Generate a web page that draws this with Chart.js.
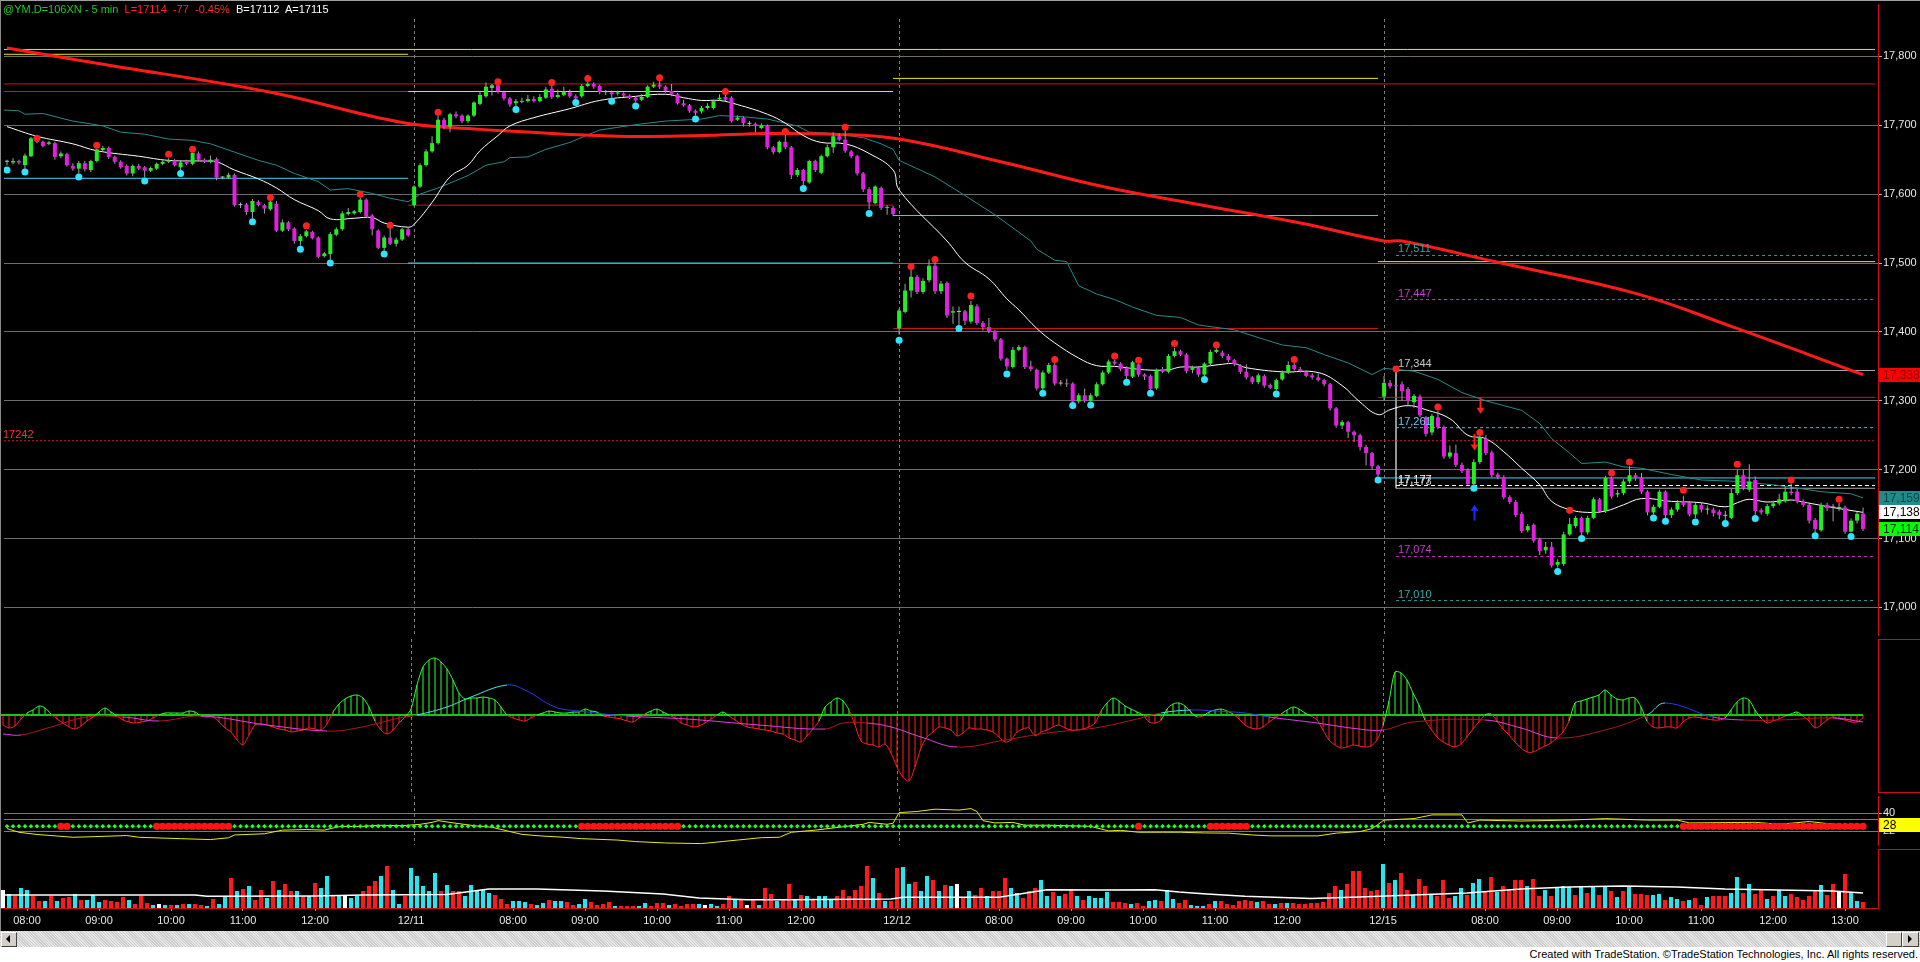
<!DOCTYPE html>
<html>
<head>
<meta charset="utf-8">
<script src="https://cdn.jsdelivr.net/npm/chart.js@4.4.1/dist/chart.umd.min.js"></script>
<style>
html,body{margin:0;padding:0;background:#000;width:1920px;height:962px;overflow:hidden;font-family:"Liberation Sans",Arial,sans-serif;}
canvas{position:absolute;left:0;display:block;}
#c1{top:0px}#c2{top:639px}#c3{top:792px}#c4{top:849px}
#hdr{position:absolute;left:3px;top:3px;font-size:11px;line-height:13px;white-space:pre;z-index:5;}
.sep{position:absolute;left:1878px;width:42px;height:1px;background:#d01010;z-index:4;}
#topb{position:absolute;left:0;top:0;width:1920px;height:1px;background:#a0a0a0;z-index:6;}
#leftb{position:absolute;left:0;top:0;width:1px;height:931px;background:#8a8a8a;z-index:6;}
#scroll{position:absolute;left:0;top:931px;width:1920px;height:16px;background:repeating-linear-gradient(45deg,#e6e6e6 0px,#e6e6e6 1px,#cdcdcd 1px,#cdcdcd 2px);}
.btn{position:absolute;top:1px;height:13px;background:#d4d0c8;border:1px solid;border-color:#fff #404040 #404040 #fff;}
#foot{position:absolute;left:0;top:947px;width:1920px;height:15px;background:#fff;}
#foottxt{position:absolute;right:2px;top:1px;font-size:11px;line-height:13px;color:#000;white-space:nowrap;}
</style>
</head>
<body>
<canvas id="c1" width="1920" height="639"></canvas>
<canvas id="c2" width="1920" height="153"></canvas>
<canvas id="c3" width="1920" height="57"></canvas>
<canvas id="c4" width="1920" height="82"></canvas>
<div id="hdr"><span style="color:#22c822">@YM.D=106XN - 5 min</span>  <span style="color:#ff2a2a">L=17114  -77  -0.45%</span>  <span style="color:#ffffff">B=17112  A=17115</span></div>
<div id="topb"></div><div id="leftb"></div>
<div class="sep" style="top:639px"></div>
<div class="sep" style="top:792px"></div>
<div class="sep" style="top:849px"></div>
<div id="scroll">
  <div class="btn" style="left:1px;width:14px;"><div style="position:absolute;left:4px;top:2px;width:0;height:0;border-top:4px solid transparent;border-bottom:4px solid transparent;border-right:4px solid #000;"></div></div>
  <div class="btn" style="left:1886px;width:14px;"></div>
  <div class="btn" style="left:1902px;width:15px;"><div style="position:absolute;left:5px;top:2px;width:0;height:0;border-top:4px solid transparent;border-bottom:4px solid transparent;border-left:4px solid #000;"></div></div>
</div>
<div id="foot"><div id="foottxt">Created with TradeStation. ©TradeStation Technologies, Inc. All rights reserved.</div></div>
<script>
// ---------------- DATA ----------------
const sessionStartBars = [68, 149, 230];
const xTickBars = [4,16,28,40,52,68,85,97,109,121,133,149,166,178,190,202,214,230,247,259,271,283,295,307];
const xTickLabels = ['08:00','09:00','10:00','11:00','12:00','12/11','08:00','09:00','10:00','11:00','12:00','12/12','08:00','09:00','10:00','11:00','12:00','12/15','08:00','09:00','10:00','11:00','12:00','13:00'];
const priceTicks = [17000,17100,17200,17300,17400,17500,17600,17700,17800];

const opens = [
17647,17646,17648,17642,17655,17678,17676,17673,17674,17655,17658,17641,17637,17645,17635,17648,17664,17667,17654,17647,
17641,17630,17641,17639,17634,17637,17644,17647,17649,17639,17648,17644,17659,17650,17647,17651,17624,17624,17628,17584,
17585,17574,17589,17584,17578,17586,17547,17559,17550,17532,17539,17545,17537,17510,17513,17541,17549,17571,17572,17574,
17592,17569,17547,17522,17537,17528,17534,17549,
17584,17611,17642,17662,17674,17708,17698,17716,17714,17706,17714,17731,17742,17754,17758,17748,17739,17732,17734,17735,
17738,17735,17740,17753,17741,17744,17748,17742,17742,17757,17760,17757,17748,17748,17746,17746,17743,17740,17737,17741,
17756,17759,17756,17750,17745,17732,17729,17721,17720,17725,17725,17738,17741,17740,17708,17711,17702,17702,17696,17699,
17668,17661,17676,17668,17628,17635,17617,17648,17631,17655,17668,17684,17679,17662,17655,17630,17607,17587,17609,17580,17580,
17405,17429,17460,17480,17458,17475,17496,17459,17471,17428,17429,17430,17415,17437,17413,17407,17401,17389,17361,17349,
17374,17378,17350,17345,17318,17341,17352,17325,17325,17325,17299,17308,17300,17307,17324,17341,17357,17354,17348,17335,
17353,17338,17336,17318,17346,17342,17365,17372,17367,17345,17348,17338,17354,17371,17370,17365,17359,17351,17342,17334,
17327,17336,17323,17317,17331,17341,17352,17346,17342,17337,17334,17330,17324,17289,17264,17269,17255,17250,17233,17224,17205,
17306,17326,17322,17324,17317,17298,17306,17276,17254,17276,17262,17219,17224,17207,17200,17179,17211,17245,17225,17193,
17189,17160,17153,17136,17112,17120,17099,17083,17088,17062,17063,17106,17118,17130,17109,17130,17157,17140,17188,17164,
17166,17183,17192,17188,17168,17138,17146,17168,17134,17142,17154,17152,17135,17149,17142,17142,17139,17133,17130,17166,
17192,17171,17185,17141,17136,17147,17151,17154,17168,17168,17154,17149,17127,17112,17149,17145,17144,17145,17110,17126,17136
];
const highs = [
17650,17652,17650,17659,17683,17677,17678,17677,17676,17662,17660,17645,17648,17648,17650,17666,17670,17669,17656,17649,
17643,17643,17644,17641,17640,17646,17649,17652,17651,17648,17650,17660,17662,17652,17656,17653,17626,17631,17630,17588,
17587,17593,17591,17586,17591,17590,17563,17561,17552,17542,17548,17547,17539,17516,17545,17552,17575,17580,17577,17595,
17594,17571,17549,17540,17551,17537,17551,17552,
17613,17645,17665,17684,17714,17711,17718,17720,17716,17716,17735,17750,17762,17760,17758,17750,17741,17738,17740,17744,
17742,17745,17755,17757,17752,17756,17752,17745,17760,17763,17762,17759,17751,17750,17750,17748,17745,17742,17745,17758,
17763,17764,17758,17760,17747,17737,17731,17723,17728,17732,17737,17745,17744,17742,17714,17713,17706,17704,17703,17701,
17670,17678,17686,17670,17638,17637,17650,17650,17657,17672,17690,17688,17692,17664,17657,17632,17610,17613,17611,17584,17583,
17434,17470,17490,17483,17478,17505,17500,17474,17473,17437,17437,17432,17445,17440,17416,17420,17403,17391,17363,17378,
17381,17380,17358,17347,17344,17355,17355,17330,17332,17327,17311,17318,17311,17327,17344,17360,17360,17356,17350,17358,
17354,17340,17338,17347,17349,17368,17377,17374,17369,17351,17350,17356,17374,17376,17373,17368,17361,17353,17353,17336,
17340,17338,17325,17332,17344,17357,17355,17349,17344,17340,17340,17332,17326,17291,17272,17271,17257,17252,17236,17226,17207,
17336,17330,17340,17328,17320,17310,17309,17278,17281,17285,17264,17235,17236,17210,17202,17215,17249,17250,17228,17196,
17192,17163,17156,17139,17121,17122,17101,17095,17095,17070,17110,17130,17133,17132,17133,17160,17159,17191,17190,17170,
17186,17205,17195,17195,17170,17149,17171,17170,17145,17156,17162,17154,17152,17152,17148,17145,17142,17140,17172,17200,
17200,17208,17190,17144,17150,17155,17165,17175,17180,17172,17157,17152,17130,17152,17152,17150,17152,17148,17129,17139,17145
];
const lows = [
17642,17643,17643,17637,17654,17674,17668,17671,17650,17652,17640,17634,17630,17633,17632,17646,17662,17651,17644,17637,
17627,17626,17635,17625,17632,17635,17642,17645,17640,17635,17642,17642,17648,17645,17645,17620,17622,17622,17582,17580,
17570,17565,17582,17572,17576,17545,17545,17546,17528,17525,17537,17534,17507,17508,17505,17539,17547,17569,17570,17572,
17566,17540,17520,17518,17526,17524,17532,17538,
17582,17609,17640,17660,17672,17694,17690,17710,17703,17703,17712,17729,17740,17743,17746,17736,17727,17728,17732,17733,
17733,17733,17738,17738,17739,17742,17740,17738,17740,17755,17753,17745,17744,17740,17743,17741,17738,17733,17735,17739,
17754,17753,17747,17742,17730,17727,17718,17714,17717,17723,17723,17736,17735,17704,17706,17698,17698,17690,17694,17665,
17658,17659,17665,17622,17625,17613,17615,17632,17629,17653,17660,17677,17660,17652,17627,17603,17578,17585,17577,17570,17568,
17396,17427,17450,17455,17455,17472,17455,17455,17420,17412,17410,17410,17412,17410,17402,17398,17386,17358,17345,17347,
17372,17346,17343,17315,17316,17339,17322,17322,17320,17298,17296,17297,17299,17305,17322,17339,17352,17343,17332,17333,
17335,17330,17316,17316,17340,17340,17363,17365,17340,17340,17335,17336,17352,17369,17362,17356,17350,17339,17331,17324,
17324,17319,17317,17315,17329,17339,17344,17341,17334,17331,17328,17321,17286,17261,17259,17246,17240,17228,17206,17200,17190,
17300,17318,17310,17300,17292,17290,17276,17248,17250,17259,17216,17216,17204,17195,17178,17177,17208,17221,17189,17186,
17157,17150,17131,17108,17109,17094,17076,17078,17058,17058,17060,17104,17115,17105,17106,17128,17137,17137,17158,17160,
17163,17180,17184,17165,17134,17135,17144,17130,17130,17139,17146,17132,17130,17138,17135,17132,17128,17127,17128,17163,
17170,17168,17134,17135,17133,17144,17148,17152,17163,17151,17146,17122,17108,17110,17140,17125,17140,17107,17109,17122,17111
];
const closes = [
17647,17648,17646,17656,17681,17676,17670,17675,17654,17659,17642,17637,17645,17636,17648,17665,17667,17654,17647,17639,
17630,17641,17637,17634,17638,17644,17647,17649,17642,17646,17644,17660,17650,17647,17650,17624,17624,17628,17584,17584,
17574,17590,17584,17579,17589,17547,17559,17549,17532,17539,17546,17536,17509,17514,17542,17549,17572,17574,17575,17592,
17568,17549,17522,17537,17528,17534,17549,17540,
17611,17642,17662,17674,17708,17697,17716,17713,17706,17714,17733,17744,17756,17758,17749,17739,17730,17735,17735,17738,
17735,17741,17752,17741,17744,17749,17742,17739,17757,17760,17756,17748,17748,17745,17747,17743,17740,17736,17741,17756,
17759,17756,17750,17745,17732,17729,17721,17718,17725,17728,17735,17740,17737,17706,17711,17703,17702,17699,17700,17668,
17661,17676,17668,17628,17635,17619,17648,17635,17655,17668,17684,17679,17663,17655,17630,17607,17588,17611,17580,17581,17571,
17431,17460,17480,17458,17474,17496,17459,17470,17424,17430,17429,17416,17439,17413,17407,17401,17389,17361,17350,17374,
17378,17349,17346,17318,17341,17352,17325,17325,17324,17299,17308,17300,17308,17324,17341,17357,17354,17346,17336,17356,
17338,17335,17317,17345,17342,17365,17372,17367,17343,17348,17338,17354,17371,17374,17365,17359,17353,17342,17334,17327,
17337,17322,17319,17330,17341,17352,17346,17343,17336,17334,17330,17324,17289,17264,17269,17255,17250,17233,17224,17205,17193,
17326,17321,17321,17314,17300,17307,17279,17252,17278,17262,17219,17225,17207,17198,17179,17211,17247,17224,17192,17189,
17160,17153,17134,17111,17118,17097,17082,17088,17061,17066,17106,17121,17130,17109,17130,17157,17140,17188,17161,17166,
17183,17192,17188,17168,17138,17146,17168,17134,17142,17152,17149,17135,17149,17142,17142,17137,17134,17133,17166,17192,
17173,17183,17140,17138,17147,17151,17157,17168,17166,17154,17149,17126,17114,17149,17144,17145,17146,17110,17126,17136,17114
];

// swing markers [bar, price]
const swingHighs = [[5,17681],[15,17671],[27,17658],[31,17665],[44,17595],[50,17554],[59,17600],[64,17555],
  [72,17719],[82,17763],[91,17762],[97,17768],[109,17769],[120,17749],[130,17691],[140,17697],
  [151,17495],[155,17505],[161,17452],[175,17360],[185,17365],[189,17359],[195,17383],[202,17381],[215,17360],
  [232,17346],[239,17291],[246,17254],[261,17141],[268,17195],[271,17211],[280,17170],[289,17208],[298,17185],[306,17157]];
const swingLows = [[0,17635],[3,17632],[12,17625],[23,17619],[29,17630],[41,17560],[49,17520],[54,17500],[63,17513],
  [85,17723],[95,17733],[101,17735],[105,17728],[115,17709],[133,17608],[144,17572],
  [149,17388],[159,17405],[167,17339],[173,17311],[178,17293],[181,17294],[187,17327],[191,17311],[200,17331],[212,17310],[229,17185],
  [245,17173],[259,17052],[263,17100],[275,17130],[277,17125],[282,17124],[287,17122],[292,17129],[302,17104],[308,17103]];

// moving averages [bar, price]
const slowMA = [[0,17812],[15,17790],[44,17748],[66,17704],[79,17694],[83,17692],[102,17684],[116,17685],[127,17688],[138,17687],
  [149,17680],[166,17647],[183,17611],[199,17585],[216,17558],[230,17532],[233,17532],[249,17501],[272,17456],[288,17408],[310,17338]];
const fastMA = [[0,17698],[5,17684],[11,17673],[15,17663],[22,17655],[27,17649],[33,17648],[35,17647],[38,17635],[42,17622],
  [45,17609],[48,17592],[52,17576],[54,17564],[58,17565],[61,17566],[63,17558],[67,17552],[68,17556],[71,17588],[74,17625],
  [77,17642],[79,17663],[82,17685],[84,17699],[88,17711],[94,17724],[99,17736],[105,17742],[110,17745],[113,17740],[116,17736],
  [119,17736],[122,17730],[127,17716],[130,17703],[133,17685],[136,17675],[140,17673],[144,17659],[148,17635],[149,17606],
  [157,17532],[160,17501],[164,17477],[167,17448],[169,17432],[172,17405],[175,17384],[179,17362],[182,17351],[185,17350],
  [190,17345],[194,17345],[196,17349],[199,17349],[203,17353],[205,17354],[207,17348],[213,17342],[219,17341],[223,17322],
  [226,17298],[229,17280],[231,17287],[234,17293],[237,17287],[241,17274],[244,17250],[247,17245],[250,17226],[253,17202],
  [256,17178],[258,17154],[261,17142],[264,17138],[267,17140],[270,17149],[273,17158],[278,17154],[283,17152],[287,17146],
  [289,17152],[291,17157],[294,17153],[298,17156],[300,17153],[305,17145],[310,17138]];
const highBand = [[-0.5,17722],[2,17721],[3,17716],[6,17717],[11,17706],[14,17702],[16,17699],[19,17690],[23,17687],[27,17680],
  [31,17678],[34,17673],[38,17661],[42,17649],[45,17642],[48,17630],[52,17618],[54,17606],[57,17608],[61,17601],[64,17594],
  [67,17589],[69,17600],[72,17609],[74,17616],[77,17627],[80,17642],[83,17647],[84,17653],[87,17654],[90,17665],[94,17675],
  [97,17686],[99,17693],[102,17697],[106,17702],[110,17706],[116,17709],[119,17714],[122,17713],[127,17709],[132,17699],
  [134,17690],[138,17688],[143,17682],[146,17673],[148,17665],[149,17649],[155,17625],[160,17598],[165,17570],[171,17532],
  [172,17520],[175,17504],[177,17502],[179,17467],[182,17455],[185,17447],[188,17436],[192,17424],[196,17421],[199,17410],
  [205,17403],[210,17389],[213,17381],[217,17377],[220,17367],[224,17355],[228,17338],[230,17347],[235,17343],[239,17331],
  [243,17312],[247,17300],[250,17293],[253,17286],[256,17267],[258,17245],[261,17224],[263,17209],[267,17211],[270,17204],
  [273,17202],[278,17193],[283,17185],[289,17183],[295,17178],[300,17172],[303,17168],[308,17165],[310,17159]];

// horizontal levels [fromBar, toBar, price, kind]
const levelSegments = [
  [-0.5,312,17810,'yellow'],[-0.5,312,17760,'red'],[-0.5,312,17242,'redDot'],
  [-0.5,67,17803,'yellow'],[-0.5,67,17749,'red'],[-0.5,67,17623,'cyan'],
  [67,148,17749,'yellow'],[67,148,17584,'red'],[67,148,17500,'cyan'],
  [148,229,17768,'yellow'],[148,229,17405,'red'],[148,229,17569,'cyan'],
  [229,312,17502,'yellow'],[229,312,17305,'red'],[229,312,17188,'cyan']
];
const labeledLevelFrom = 232, labeledLevelTo = 312;
const labeledLevels = [17511,17447,17344,17261,17177,17173,17074,17010];
const labeledKinds = ['tealDash','magDash','grey','cyanDash','whiteDash','grey','magDash','tealDash'];
const pivotLevel = 17242;
const arrows = [[246,17305,17281,'down'],[245,17252,17228,'down'],[245,17126,17149,'up']];

// MACD histogram, one value per bar
const macdHist = [
-10,-13,-11,-4,2,5,9,7,1,-4,-8,-12,-14,-11,-6,-2,3,7,3,-1,-5,-7,-8,-7,-6,-3,0,2,2,2,2,4,3,-1,-2,-2,-7,-13,-17,-25,
-30,-20,-10,-9,-10,-12,-14,-15,-17,-16,-15,-13,-14,-15,-9,3,11,16,19,20,17,8,-6,-15,-19,-15,-8,-2,
6,30,48,55,57,53,46,35,22,16,17,17,18,17,15,8,0,-3,-5,-6,-3,0,2,4,3,2,2,3,3,6,4,3,-1,-2,-3,-4,-6,-7,-3,1,
4,6,3,0,-3,-8,-10,-12,-11,-8,-4,0,3,-1,-5,-9,-12,-13,-14,-15,-16,-18,-19,-23,-25,-27,-21,-14,-6,8,13,17,14,5,-10,-26,-29,-30,-32,-29,-38,
-52,-62,-66,-52,-33,-22,-17,-12,-13,-15,-21,-18,-13,-14,-14,-15,-17,-22,-27,-25,-17,-14,-13,-21,-17,-15,-12,-10,-13,-15,
-15,-14,-12,-8,4,12,17,14,9,6,3,0,-7,-8,-5,6,11,12,9,3,-2,-1,3,5,6,4,1,-4,-10,-13,-14,-12,-7,-3,1,5,8,6,2,-1,
-5,-15,-25,-30,-33,-32,-30,-31,-32,-31,-25,
-10,14,43,42,35,22,10,-5,-14,-22,-27,-30,-32,-29,-22,-14,-7,0,1,-6,-14,-20,-27,-33,-37,-37,-34,-31,-28,-23,
-17,-6,12,14,16,18,20,25,20,16,15,17,17,8,-6,-12,-13,-12,-12,-13,-7,-3,-2,-3,-4,-5,-5,-3,5,13,
17,15,5,-3,-8,-6,-4,-1,1,3,-1,-6,-13,-10,-5,-2,-4,-5,-7,-7,-3
];
const macdSignal = [[0,-19],[3,-20],[8,-12],[14,-2],[20,-2],[26,-6],[33,-1],[44,-10],[54,-16],[59,-13],[66,-3],[69,0],[74,8],
  [78,18],[84,30],[87,25],[92,8],[96,4],[104,-1],[114,-4],[126,-10],[137,-14],[140,-8],[144,-8],[148,-12],[153,-22],[159,-32],
  [167,-25],[174,-18],[182,-13],[189,-4],[193,2],[198,5],[202,4],[207,2],[211,-2],[219,-8],[226,-14],[230,-15],[235,-7],
  [247,-5],[253,-13],[259,-23],[267,-15],[274,0],[277,12],[285,-2],[290,-5],[296,-5],[305,-3],[310,-7]];

// ADX
const adxLine = [[0,24.6],[2,21],[5,18.8],[11,16],[14,16.5],[20,17.7],[22,16],[29,14.6],[34,13.7],[37,15.5],[38,18.3],[43,19.5],
  [46,23.1],[50,23.7],[53,23.1],[55,26],[56,26.9],[59,26.6],[62,28],[66,27.5],[69,28.9],[71,30.8],[72,32.6],[74,30.8],[78,27.5],
  [81,26],[84,21.7],[86,18.9],[89,17.4],[93,16],[96,14.6],[102,13.2],[105,11.7],[110,10.3],[116,9.7],[122,13.2],[126,15.6],
  [129,16],[131,21],[135,23.1],[139,26],[143,28.9],[144,30.8],[147,28.9],[148,30],[149,40.6],[152,41.7],[155,44],[159,43.1],
  [161,44.6],[162,41.7],[163,32.6],[165,30.3],[168,30.8],[170,28],[174,28],[181,26.9],[184,22.3],[186,22.9],[189,21],[193,21],
  [196,21],[200,20.3],[204,20.1],[208,18.3],[211,17.4],[219,17.4],[222,20.1],[226,21.7],[228,24.6],[230,33.1],[235,34.6],
  [238,38.3],[243,38.3],[244,30.3],[246,33.1],[253,32.2],[261,33.1],[267,34.6],[274,33.1],[279,33.1],[281,30.3],[292,30.9],
  [296,28.9],[301,31.7],[305,29],[310,28]];
const adxTicks = [22,34,40];
const dotRowLevel = 27;
const adxAlertRanges = [[9,10],[25,37],[96,112],[189,189],[201,207],[280,310]];

// Volume per bar and direction (c = up, r = down, w = unchanged)
const volumes = [
1800,1400,1200,2000,1800,1200,700,700,1200,700,1000,1100,1400,800,800,1300,600,800,700,600,1100,800,400,1200,500,300,400,300,300,300,
400,400,400,300,200,900,400,1200,3000,1700,1900,2200,800,1800,1000,2700,1800,2400,1700,1700,1200,1200,2500,2000,3200,1300,1300,1200,1000,1200,
1700,2200,2700,3200,4200,1800,400,1200,
4000,3200,2200,1700,3500,1700,2300,1700,1700,1200,2300,1800,1800,1500,1300,900,400,700,700,600,400,300,500,800,700,700,600,300,400,900,
600,300,400,600,200,200,200,200,200,500,200,500,500,300,400,200,400,400,400,300,400,200,400,1200,800,800,300,800,300,2000,
1400,700,900,2400,800,1300,1200,900,1200,1200,900,1200,1800,1200,1800,2200,4200,3000,1500,700,700,
4000,4100,2400,2600,1700,3200,2800,1700,2300,2200,2400,1000,1700,1300,2000,1200,1700,1700,3000,2000,1500,1000,1700,2000,2800,1200,1600,1200,1400,1900,
1200,800,1200,1000,1000,1600,600,600,500,400,500,200,700,800,700,1800,900,500,800,300,200,200,400,700,700,400,300,700,800,700,
600,700,400,400,500,500,500,400,400,500,500,600,1500,2200,1800,2400,3700,3700,2000,1700,1800,
4400,2500,2800,3500,1800,1300,2900,2200,1400,1200,2800,1000,1200,2000,1300,2500,2900,1700,3100,1600,2200,1900,2800,2800,2200,2900,1200,1800,1200,2100,
2200,2100,1300,2200,1500,2100,1300,2100,1700,1100,1700,2100,1400,1400,1300,1300,1400,800,1100,900,700,800,1000,300,1100,1200,1200,1200,1500,3100,
1500,2400,1400,1900,900,1200,1800,1200,1400,1100,800,1200,1800,2300,1300,2400,1700,3400,1600,700,600
];
const volDir =
 "wcrccrrcrc"+"rrcrcccrrr"+"rcrrrcwcrc"+"rcrrcrccrc"+"rcrrcrcrrc"+"rcrccrcwcc"+"rrrcrccr"+
 "cccccrcrrc"+"ccccrrrccc"+"rccrccrrcc"+"rrrrcrrrcc"+"rrrcrrrrcw"+"ccrrcrwrcr"+"rcrrcrcrcc"+"crrrrrrcrcr"+
 "rccrccrcrc"+"wrcrrcrrrc"+"crrrccrcrr"+"crccccrrrc"+"rrccrccrrc"+"ccrcrrrrrr"+"crrcrcrrrr"+"rrrrcrrrrrr"+
 "crcrrcrrcr"+"rrccrccrrc"+"rrrrcrrcrc"+"ccrcrcrcrc"+"rcrrrccrcc"+"rcrrcrrrcc"+"rcrrcrccrr"+"rrrcrrwrccr";
const volumeMA = [[0,1300],[32,1300],[34,1170],[52,1200],[60,1300],[74,1350],[81,1900],[89,1900],[100,1700],[110,1400],[116,1000],
  [124,830],[131,830],[148,900],[150,1070],[166,1070],[174,1830],[183,1800],[192,1830],[196,1600],[200,1430],[207,1170],[218,950],
  [226,1100],[235,1300],[244,1500],[253,1900],[261,2100],[270,2200],[279,2100],[287,1900],[296,1800],[305,1700],[310,1500]];

// ---------------- RENDER ----------------
const FONT = "'Liberation Sans', Arial, sans-serif";
Chart.defaults.font.family = FONT;
Chart.defaults.font.size = 11;
Chart.defaults.animation = false;
Chart.defaults.plugins.legend.display = false;
Chart.defaults.plugins.tooltip.enabled = false;

const X_MIN = -0.5, X_MAX = 312.5;
const N = closes.length;
const idx = Array.from({length: N}, (_, i) => i);
const pts = arr => arr.map(([x, y]) => ({x, y}));
const fmt = v => Math.round(v).toLocaleString('en-US');
const lastOf = arr => arr[arr.length - 1][1];

const UP = '#22ee22', DN = '#e020e0', WICK = '#a4a4a4';
const LEVEL_STYLE = {
  yellow:   {color:'#e6e620', dash:[]},
  red:      {color:'#d41414', dash:[]},
  redDot:   {color:'#d02020', dash:[2,2]},
  cyan:     {color:'#3ad8ee', dash:[]},
  tealDash: {color:'#2f9c9c', dash:[3,3], label:'#35a8a8'},
  magDash:  {color:'#c030c0', dash:[3,3], label:'#c83cc8'},
  grey:     {color:'#a8a8a8', dash:[], label:'#c8c8c8'},
  cyanDash: {color:'#40c8c8', dash:[3,3], label:'#78c8f0'},
  whiteDash:{color:'#ffffff', dash:[4,3], label:'#ffffff'}
};

function xScale() {
  return {type:'linear', min:X_MIN, max:X_MAX, display:false, offset:false, grid:{offset:false}};
}
function fitY(ax) { ax.width = 42; ax.paddingTop = 0; ax.paddingBottom = 0; }

const dividerPlugin = (topOffset) => ({
  id: 'dividers',
  beforeDatasetsDraw(chart) {
    const {ctx, chartArea: a, scales: {x}} = chart;
    ctx.save();
    ctx.strokeStyle = '#7c7c7c'; ctx.lineWidth = 1; ctx.setLineDash([3, 3]);
    sessionStartBars.forEach(b => {
      const px = Math.round(x.getPixelForValue(b)) + 0.5;
      ctx.beginPath(); ctx.moveTo(px, a.top + topOffset); ctx.lineTo(px, a.bottom); ctx.stroke();
    });
    ctx.restore();
  }
});

const axisBox = (ctx, y, text, bg, fg) => {
  const py = Math.round(y);
  ctx.fillStyle = bg; ctx.fillRect(1879, py - 7, 41, 14);
  ctx.fillStyle = fg; ctx.font = '12px ' + FONT; ctx.textBaseline = 'middle'; ctx.textAlign = 'left';
  ctx.fillText(text, 1883, py + 1);
};

const priceOverlay = {
  id: 'priceOverlay',
  afterDatasetsDraw(chart) {
    const {ctx, scales: {x, y}} = chart;
    ctx.save();
    ctx.font = '11px ' + FONT; ctx.textAlign = 'left'; ctx.textBaseline = 'alphabetic';
    labeledLevels.forEach((p, k) => {
      ctx.fillStyle = LEVEL_STYLE[labeledKinds[k]].label;
      ctx.fillText(fmt(p), x.getPixelForValue(labeledLevelFrom) + 2, y.getPixelForValue(p) - 3);
    });
    ctx.fillStyle = '#ff3030';
    ctx.fillText(String(pivotLevel), 3, y.getPixelForValue(pivotLevel) - 3);
    arrows.forEach(([b, from, to, dir]) => {
      const px = Math.round(x.getPixelForValue(b)) + 0.5;
      const y0 = y.getPixelForValue(from), y1 = y.getPixelForValue(to);
      const s = Math.sign(y1 - y0);
      const col = dir === 'up' ? '#1a2cff' : '#ff1e1e';
      ctx.strokeStyle = col; ctx.fillStyle = col; ctx.lineWidth = 2;
      ctx.beginPath(); ctx.moveTo(px, y0); ctx.lineTo(px, y1 - s * 5); ctx.stroke();
      ctx.beginPath(); ctx.moveTo(px - 4, y1 - s * 6); ctx.lineTo(px + 4, y1 - s * 6); ctx.lineTo(px, y1); ctx.closePath(); ctx.fill();
    });
    ctx.restore();
  },
  afterDraw(chart) {
    const {ctx, scales: {y}} = chart;
    ctx.save();
    axisBox(ctx, y.getPixelForValue(lastOf(slowMA)), fmt(lastOf(slowMA)), '#ff0000', '#8a0000');
    axisBox(ctx, y.getPixelForValue(lastOf(highBand)), fmt(lastOf(highBand)), '#1f8c8c', '#0b4444');
    axisBox(ctx, y.getPixelForValue(lastOf(fastMA)), fmt(lastOf(fastMA)), '#ffffff', '#000000');
    axisBox(ctx, y.getPixelForValue(closes[N - 1]), fmt(closes[N - 1]), '#00ff00', '#002a00');
    ctx.restore();
  }
};

// ---- price pane ----
const levelDatasets = levelSegments.map(([a, b, p, kind]) => ({
  type:'line', data:[{x:a, y:p}, {x:b, y:p}], borderColor:LEVEL_STYLE[kind].color,
  borderDash:LEVEL_STYLE[kind].dash, borderWidth:1, pointRadius:0, order:20
}));
labeledLevels.forEach((p, k) => levelDatasets.push({
  type:'line', data:[{x:labeledLevelFrom, y:p}, {x:labeledLevelTo, y:p}], borderColor:LEVEL_STYLE[labeledKinds[k]].color,
  borderDash:LEVEL_STYLE[labeledKinds[k]].dash, borderWidth:1, pointRadius:0, order:20
}));
levelDatasets.push({type:'line', data:[{x:labeledLevelFrom, y:labeledLevels[2]}, {x:labeledLevelFrom, y:labeledLevels[5]}],
  borderColor:'#a8a8a8', borderWidth:1, pointRadius:0, order:20});

new Chart(document.getElementById('c1'), {
  type: 'bar',
  data: { datasets: [
    ...levelDatasets,
    {type:'line', data:pts(slowMA), borderColor:'#ff1a1a', borderWidth:3, pointRadius:0, tension:0.4, order:9},
    {type:'line', data:pts(highBand), borderColor:'#2a8a8a', borderWidth:1, pointRadius:0, tension:0, order:9},
    {type:'line', data:pts(fastMA), borderColor:'#ffffff', borderWidth:1, pointRadius:0, tension:0.4, order:8},
    {type:'bar', data: idx.map(i => ({x:i, y:[lows[i], highs[i]]})), backgroundColor:WICK,
      barThickness:1, grouped:false, inflateAmount:0, order:6},
    {type:'bar', data: idx.map(i => ({x:i, y:[opens[i], closes[i]]})),
      backgroundColor: idx.map(i => closes[i] > opens[i] ? UP : (closes[i] < opens[i] ? DN : '#bdbdbd')),
      barThickness:4, grouped:false, inflateAmount:0, minBarLength:1, order:5},
    {type:'scatter', data:pts(swingHighs), pointRadius:3.5, pointBackgroundColor:'#ff2020', pointBorderWidth:0, order:1},
    {type:'scatter', data:pts(swingLows), pointRadius:3.5, pointBackgroundColor:'#30e4ff', pointBorderWidth:0, order:1}
  ]},
  options: {
    responsive:false, devicePixelRatio:1, layout:{padding:0},
    scales: {
      x: xScale(),
      y: {type:'linear', position:'right', min:16960, max:17876, beginAtZero:false,
        afterBuildTicks: ax => { ax.ticks = priceTicks.map(v => ({value:v})); },
        afterFit: fitY,
        ticks:{color:'#e8e8e8', padding:1, font:{size:11}, callback: v => fmt(v)},
        grid:{color:'#6c6c6c', lineWidth:1, tickLength:4, tickColor:'#b0b0b0'},
        border:{color:'#d01010', width:1}}
    }
  },
  plugins: [dividerPlugin(15), priceOverlay]
});

// ---- MACD pane ----
new Chart(document.getElementById('c2'), {
  type: 'bar',
  data: { datasets: [
    {type:'line', data:[{x:X_MIN, y:0}, {x:N - 1, y:0}], borderColor:'#14c814', borderWidth:2, pointRadius:0, order:3},
    {type:'bar', data: idx.map(i => ({x:i, y:macdHist[i]})),
      backgroundColor: idx.map(i => macdHist[i] >= 0 ? '#30ff30' : '#ff2020'),
      barThickness:1, grouped:false, inflateAmount:0, order:4},
    {type:'line', data: idx.map(i => ({x:i, y:macdHist[i]})), borderWidth:1, pointRadius:0, tension:0.3, order:2,
      segment:{borderColor: c => (c.p0.parsed.y + c.p1.parsed.y) / 2 >= 0 ? '#30ff30' : '#ff2020'}},
    {type:'line', data: pts(macdSignal), borderWidth:1, pointRadius:0, tension:0.4, order:1,
      segment:{borderColor: c => {
        const a = c.p0.parsed.y, b = c.p1.parsed.y, m = (a + b) / 2;
        if (m >= 0) return b >= a ? '#40e8e8' : '#2838ff';
        return b >= a ? '#b01818' : '#e040e0';
      }}}
  ]},
  options: {
    responsive:false, devicePixelRatio:1, layout:{padding:0},
    scales: {
      x: xScale(),
      y: {type:'linear', position:'right', min:-77, max:76, beginAtZero:false, afterFit: fitY,
        ticks:{display:false}, grid:{display:false}, border:{color:'#d01010', width:1}}
    }
  },
  plugins: [dividerPlugin(0)]
});

// ---- ADX pane ----
const inAlert = i => adxAlertRanges.some(([a, b]) => i >= a && i <= b);
new Chart(document.getElementById('c3'), {
  type: 'scatter',
  data: { datasets: [
    {type:'line', data: pts(adxLine), borderColor:'#e8e820', borderWidth:1, pointRadius:0, tension:0, order:3},
    {type:'scatter', data: idx.filter(i => !inAlert(i)).map(i => ({x:i, y:dotRowLevel})),
      pointStyle:'rectRot', pointRadius:2.3, pointBackgroundColor:'#22ff22', pointBorderWidth:0, order:2},
    {type:'scatter', data: idx.filter(i => inAlert(i)).map(i => ({x:i, y:dotRowLevel})),
      pointRadius:3.6, pointBackgroundColor:'#ff1414', pointBorderWidth:0, order:1}
  ]},
  options: {
    responsive:false, devicePixelRatio:1, layout:{padding:0},
    scales: {
      x: xScale(),
      y: {type:'linear', position:'right', min:8.29, max:57.14, afterFit: fitY,
        afterBuildTicks: ax => { ax.ticks = adxTicks.map(v => ({value:v})); },
        ticks:{color:'#e8e8e8', padding:1, font:{size:11}, callback: v => (v === 34 ? '' : String(v))},
        grid:{color:'#7a7a7a', lineWidth:1, tickLength:4, tickColor:'#b0b0b0'},
        border:{color:'#d01010', width:1}}
    }
  },
  plugins: [dividerPlugin(0), {
    id:'adxBox',
    afterDraw(chart) {
      const {ctx, scales:{y}} = chart;
      const v = lastOf(adxLine);
      ctx.save();
      const py = Math.round(y.getPixelForValue(v));
      ctx.fillStyle = '#ffff00'; ctx.fillRect(1879, py - 7, 41, 14);
      ctx.fillStyle = '#000'; ctx.font = '12px ' + FONT; ctx.textBaseline = 'middle'; ctx.textAlign = 'left';
      ctx.fillText(String(Math.round(v)), 1883, py + 1);
      ctx.restore();
    }
  }]
});

// ---- Volume pane with time axis ----
const VOLCOL = {c:'#22e6f0', r:'#ff1a1a', w:'#ffffff'};
new Chart(document.getElementById('c4'), {
  type: 'bar',
  data: { datasets: [
    {type:'bar', data: idx.map(i => ({x:i, y:volumes[i]})), backgroundColor: idx.map(i => VOLCOL[volDir[i]]),
      barThickness:4, grouped:false, inflateAmount:0, order:3},
    {type:'line', data: pts(volumeMA), borderColor:'#ffffff', borderWidth:1.6, pointRadius:0, tension:0, order:1}
  ]},
  options: {
    responsive:false, devicePixelRatio:1, layout:{padding:0},
    scales: {
      x: {type:'linear', min:X_MIN, max:X_MAX, offset:false, position:'bottom',
        afterBuildTicks: ax => { ax.ticks = xTickBars.map(v => ({value:v})); },
        afterFit: ax => { ax.height = 23; ax.paddingLeft = 0; ax.paddingRight = 0; },
        ticks:{color:'#e8e8e8', padding:3, maxRotation:0, autoSkip:false, font:{size:11},
          callback: v => { const k = xTickBars.indexOf(v); return k >= 0 ? xTickLabels[k] : ''; }},
        grid:{display:true, drawOnChartArea:false, tickLength:3, color:'#909090', offset:false},
        border:{color:'#d01010', width:1}},
      y: {type:'linear', position:'right', min:0, max:5900, beginAtZero:true, afterFit: fitY,
        ticks:{display:false}, grid:{display:false}, border:{color:'#d01010', width:1}}
    }
  }
});
</script>
</body>
</html>
